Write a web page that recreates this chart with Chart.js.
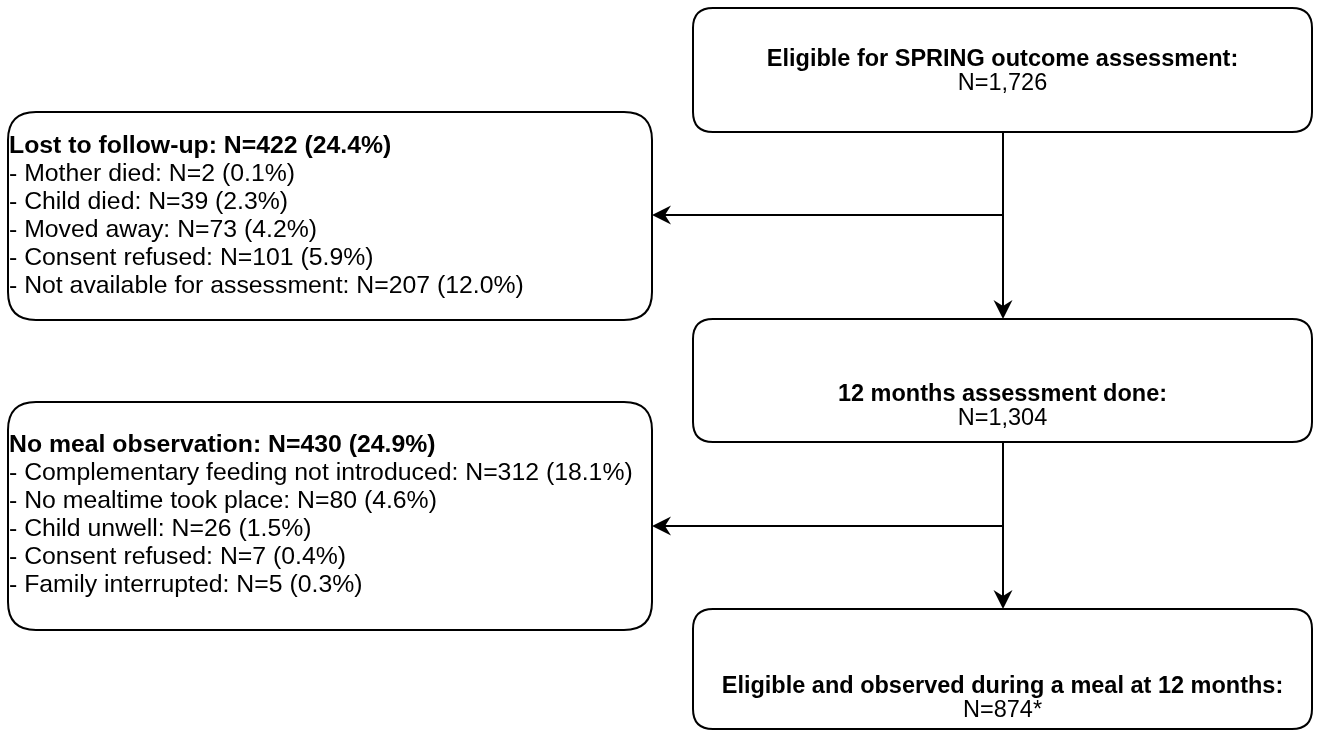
<!DOCTYPE html>
<html lang="en">
<head>
  <meta charset="UTF-8">
  <title>SPRING flow diagram</title>
  <script src="https://cdn.jsdelivr.net/npm/chart.js"></script>
  <style>
    body { margin: 0; background: #fff; }
    #wrap { width: 1319px; height: 730px; }
  </style>
</head>
<body>
  <div id="wrap"><canvas id="flow" width="1319" height="730"></canvas></div>

<script>
// main flow steps
const stepTitles = ['Eligible for SPRING outcome assessment:', '12 months assessment done:', 'Eligible and observed during a meal at 12 months:'];
const stepCounts = ['N=1,726', 'N=1,304', 'N=874*'];

// exclusions
const exclTitles = ['Lost to follow-up', 'No meal observation'];
const exclTotals = [422, 430];
const exclPcts = [24.4, 24.9];

const lostReasons = ['Mother died', 'Child died', 'Moved away', 'Consent refused', 'Not available for assessment'];
const lostN = [2, 39, 73, 101, 207];
const lostPct = [0.1, 2.3, 4.2, 5.9, 12.0];

const mealReasons = ['Complementary feeding not introduced', 'No mealtime took place', 'Child unwell', 'Consent refused', 'Family interrupted'];
const mealN = [312, 80, 26, 7, 5];
const mealPct = [18.1, 4.6, 1.5, 0.4, 0.3];

// layout (in scale units = pixels of the reference)
const layout = {
    steps: [
        { x0: 693, x1: 1312, y0: 8, y1: 132, ty: 60 },
        { x0: 693, x1: 1312, y0: 319, y1: 442, ty: 395 },
        { x0: 693, x1: 1312, y0: 609, y1: 729, ty: 687 }
    ],
    excl: [
        { x0: 8, x1: 652, y0: 112, y1: 320, ty: 146 },
        { x0: 8, x1: 652, y0: 402, y1: 630, ty: 445 }
    ],
    branchY: [215, 526],
    spineX: 1003
};

const fmt = (n, p) => 'N=' + n + ' (' + p.toFixed(1) + '%)';
const exclLines = [
    lostReasons.map((r, i) => '- ' + r + ': ' + fmt(lostN[i], lostPct[i])),
    mealReasons.map((r, i) => '- ' + r + ': ' + fmt(mealN[i], mealPct[i]))
];

function roundRect(ctx, x0, y0, x1, y1, r) {
    ctx.beginPath();
    ctx.moveTo(x0 + r, y0);
    ctx.lineTo(x1 - r, y0);
    ctx.quadraticCurveTo(x1, y0, x1, y0 + r);
    ctx.lineTo(x1, y1 - r);
    ctx.quadraticCurveTo(x1, y1, x1 - r, y1);
    ctx.lineTo(x0 + r, y1);
    ctx.quadraticCurveTo(x0, y1, x0, y1 - r);
    ctx.lineTo(x0, y0 + r);
    ctx.quadraticCurveTo(x0, y0, x0 + r, y0);
    ctx.closePath();
    ctx.stroke();
}

function arrowHead(ctx, x, y, dir) {
    // classic draw.io arrow, tip at (x,y)
    const L = 19, W = 9.5, back = 6;
    ctx.save();
    ctx.translate(x, y);
    ctx.rotate(dir);
    ctx.beginPath();
    ctx.moveTo(0, 0);
    ctx.lineTo(-L, -W);
    ctx.lineTo(-L + back, 0);
    ctx.lineTo(-L, W);
    ctx.closePath();
    ctx.fill();
    ctx.restore();
}

const flowPlugin = {
    id: 'flow',
    afterDraw(chart) {
        const ctx = chart.ctx;
        const sx = chart.scales.x, sy = chart.scales.y;
        const X = v => sx.getPixelForValue(v);
        const Y = v => sy.getPixelForValue(v);
        ctx.save();
        ctx.strokeStyle = '#000';
        ctx.fillStyle = '#000';
        ctx.lineWidth = 2;

        // main boxes
        layout.steps.forEach((b, i) => {
            roundRect(ctx, X(b.x0), Y(b.y0), X(b.x1), Y(b.y1), 20);
            const cx = (X(b.x0) + X(b.x1)) / 2;
            ctx.textAlign = 'center';
            ctx.textBaseline = 'middle';
            ctx.font = 'bold 23.5px "Liberation Sans", Arial, sans-serif';
            ctx.fillText(stepTitles[i], cx, Y(b.ty));
            ctx.font = '23.5px "Liberation Sans", Arial, sans-serif';
            ctx.fillText(stepCounts[i], cx, Y(b.ty + 24));
        });

        // exclusion boxes
        layout.excl.forEach((b, i) => {
            roundRect(ctx, X(b.x0), Y(b.y0), X(b.x1), Y(b.y1), 28);
            ctx.textAlign = 'left';
            ctx.textBaseline = 'middle';
            ctx.font = 'bold 24.8px "Liberation Sans", Arial, sans-serif';
            ctx.fillText(exclTitles[i] + ': ' + fmt(exclTotals[i], exclPcts[i]), X(b.x0 + 1), Y(b.ty));
            ctx.font = '24.8px "Liberation Sans", Arial, sans-serif';
            exclLines[i].forEach((t, k) => {
                ctx.fillText(t, X(b.x0 + 1), Y(b.ty + 28 * (k + 1)));
            });
        });

        // connectors
        const s = layout.spineX;
        for (let i = 0; i < 2; i++) {
            const from = layout.steps[i], to = layout.steps[i + 1];
            ctx.beginPath();
            ctx.moveTo(X(s), Y(from.y1));
            ctx.lineTo(X(s), Y(to.y0) - 6);
            ctx.stroke();
            arrowHead(ctx, X(s), Y(to.y0), Math.PI / 2);

            const by = layout.branchY[i];
            const ex = layout.excl[i].x1;
            ctx.beginPath();
            ctx.moveTo(X(s), Y(by));
            ctx.lineTo(X(ex) + 6, Y(by));
            ctx.stroke();
            arrowHead(ctx, X(ex), Y(by), Math.PI);
        }
        ctx.restore();
    }
};

new Chart(document.getElementById('flow'), {
    type: 'scatter',
    data: { datasets: [{ data: [], pointRadius: 0 }] },
    options: {
        responsive: false,
        animation: false,
        layout: { padding: 0 },
        plugins: { legend: { display: false }, tooltip: { enabled: false } },
        scales: {
            x: { type: 'linear', min: 0, max: 1319, display: false },
            y: { type: 'linear', min: 0, max: 730, reverse: true, display: false }
        }
    },
    plugins: [flowPlugin]
});
</script>
</body>
</html>
